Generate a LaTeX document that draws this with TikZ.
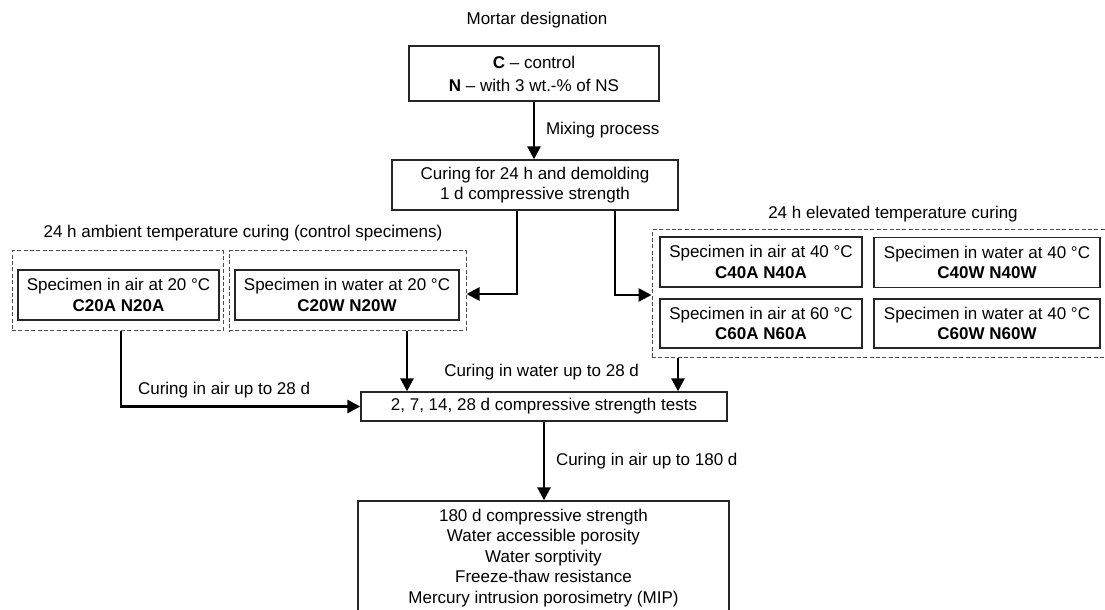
\documentclass[tikz,border=0pt]{standalone}
\usepackage{fontspec}
\setmainfont{Liberation Sans}
\usetikzlibrary{arrows.meta}

\begin{document}
\begin{tikzpicture}[x=0.5pt, y=-0.5pt, font=\fontsize{8.5}{10.25}\selectfont,
  box/.style={draw=black!85, line width=0.65pt, rectangle, inner sep=0pt, align=center},
  group/.style={draw=black!70, line width=0.5pt, dash pattern=on 2pt off 1.2pt, rectangle, inner sep=0pt},
  arr/.style={draw, line width=1.35pt, -{Triangle[length=6.5pt,width=6.5pt]}}]
  \useasboundingbox (0,0) rectangle (1105,610);

  \node at (537,20) {Mortar designation};
  \node [box,minimum width=125pt,minimum height=27.5pt] (des) at (534,73.5) {\textbf{C} -- control\\[1.25pt]\textbf{N} -- with 3 wt.-\% of NS};
  \node [box,minimum width=143pt,minimum height=25pt] (dem) at (535,185) {Curing for 24 h and demolding\\1 d compressive strength};
  \draw [arr] (des) -- (des.south |- dem.north) node [midway,right,xshift=2pt] {Mixing process};

  %ambient curing (control)
  \node at (243,233) {24 h ambient temperature curing (control specimens)};
  \node [group,minimum width=105.5pt,minimum height=40pt] (g1) at (117.5,291) {};
  \node [group,minimum width=118.5pt,minimum height=40pt] (g2) at (347.5,291) {};
  \node [box,minimum width=100.5pt,minimum height=25pt] (a20) at (118.5,295) {Specimen in air at 20 °C\\\textbf{C20A N20A}};
  \node [box,minimum width=112pt,minimum height=25pt] (w20) at (347,295) {Specimen in water at 20 °C\\\textbf{C20W N20W}};

  %elevated curing
  \node at (893,214) {24 h elevated temperature curing};
  \node [group,minimum width=230pt,minimum height=64pt] (g3) at (882,294) {};
  \node [box,minimum width=101pt,minimum height=25pt] (a40) at (761,262) {Specimen in air at 40 °C\\\textbf{C40A N40A}};
  \node [box,minimum width=113pt,minimum height=25pt] (w40) at (987,262.5) {Specimen in water at 40 °C\\\textbf{C40W N40W}};
  \node [box,minimum width=101pt,minimum height=24.5pt] (a60) at (761,323.5) {Specimen in air at 60 °C\\\textbf{C60A N60A}};
  \node [box,minimum width=113pt,minimum height=24.5pt] (w60) at (987,323.5) {Specimen in water at 40 °C\\\textbf{C60W N60W}};

  \draw [arr] ([xshift=-9pt]dem.south) |- ([yshift=-1.5pt]g2.east);
  \draw [arr] ([xshift=40pt]dem.south) |- ([yshift=-0.5pt]g3.west);

  %testing
  \node [box,minimum width=183pt,minimum height=14.5pt] (tst) at (544,406.5) {2, 7, 14, 28 d compressive strength tests};
  \draw [arr] ([xshift=1.75pt]g1.south) |- (tst.west);
  \draw [arr] ([xshift=29.75pt]g2.south) -- ([xshift=29.75pt]g2.south |- tst.north);
  \draw [arr] ([xshift=-102pt]g3.south) -- ([xshift=-102pt]g3.south |- tst.north);
  \node [anchor=west] at (131,390) {Curing in air up to 28 d};
  \node [anchor=east] at (646,372) {Curing in water up to 28 d};

  \node [box,minimum width=185.5pt,minimum height=57pt] (fin) at (543.5,558) {180 d compressive strength\\Water accessible porosity\\Water sorptivity\\Freeze-thaw resistance\\Mercury intrusion porosimetry (MIP)};
  \draw [arr] (tst) -- (tst.south |- fin.north) node [midway,right,xshift=2pt] {Curing in air up to 180 d};

  \end{tikzpicture}
\end{document}
